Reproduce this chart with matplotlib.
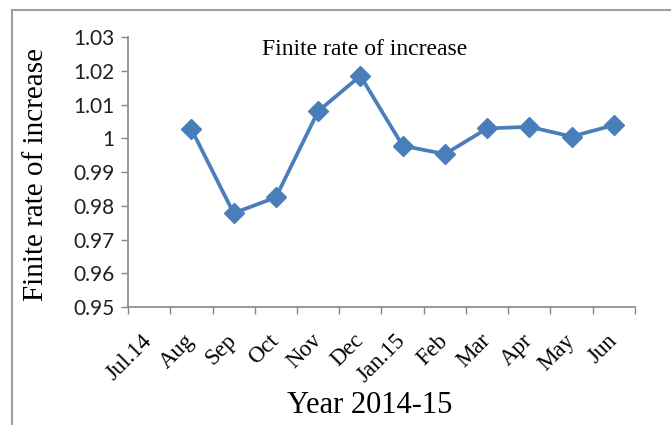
import matplotlib
matplotlib.use("Agg")
import matplotlib.pyplot as plt
from matplotlib.lines import Line2D
import numpy as np

months = ["Jul.14", "Aug", "Sep", "Oct", "Nov", "Dec", "Jan.15",
          "Feb", "Mar", "Apr", "May", "Jun"]
# no value for Jul.14
rate = [np.nan, 1.0027, 0.9778, 0.9825, 1.0080, 1.0185, 0.9978,
        0.9953, 1.0029, 1.0034, 1.0005, 1.0039]
yticks = [0.95, 0.96, 0.97, 0.98, 0.99, 1.00, 1.01, 1.02, 1.03]
ytick_labels = ["0.95", "0.96", "0.97", "0.98", "0.99", "1", "1.01", "1.02", "1.03"]

fig = plt.figure(figsize=(6.71, 4.25), dpi=100)
ax = fig.add_axes([0.1908, 0.2776, 0.7555, 0.6353])

x = np.arange(len(months))
ax.plot(x, rate, color="#4a7ebb", lw=2.7, marker="D", markersize=10,
        markeredgecolor="#4a7ebb", markerfacecolor="#4a7ebb")

ax.set_xlim(-0.5, len(months) - 0.5)
ax.set_ylim(0.95, 1.03)
ax.set_yticks(yticks)
ax.set_yticklabels(ytick_labels, family="Lato", fontsize=15, color="#202020")
ax.set_xticks(x)
ax.set_xticklabels(months, family="Liberation Serif", fontsize=16.5,
                   rotation=45, ha="right", va="center", rotation_mode="anchor")
# category boundaries carry the tick marks
ax.set_xticks(np.arange(len(months) + 1) - 0.5, minor=True)
ax.tick_params(axis="x", which="major", length=0, pad=22)
ax.tick_params(axis="x", which="minor", length=5, color="#868686", width=1)
ax.tick_params(axis="y", length=5, color="#868686", width=1, pad=5)

for s in ["top", "right"]:
    ax.spines[s].set_visible(False)
for s in ["left", "bottom"]:
    ax.spines[s].set_color("#868686")
    ax.spines[s].set_linewidth(1.2)

ax.text(0.467, 0.955, "Finite rate of increase", transform=ax.transAxes,
        ha="center", va="center", family="Liberation Serif", fontsize=17)
ax.set_ylabel("Finite rate of increase", family="Liberation Serif",
              fontsize=21, va="center")
ax.yaxis.set_label_coords(-0.181, 0.49)
ax.set_xlabel("Year 2014-15", family="Liberation Serif", fontsize=22, va="center")
ax.xaxis.set_label_coords(0.477, -0.363)

# outer chart frame
fig.add_artist(Line2D([12 / 671, 1.0], [1 - 10 / 425] * 2, color="#a0a0a0", lw=1.5))
fig.add_artist(Line2D([12 / 671] * 2, [0.0, 1 - 10 / 425], color="#a0a0a0", lw=1.5))

fig.savefig("out.png", dpi=100)
